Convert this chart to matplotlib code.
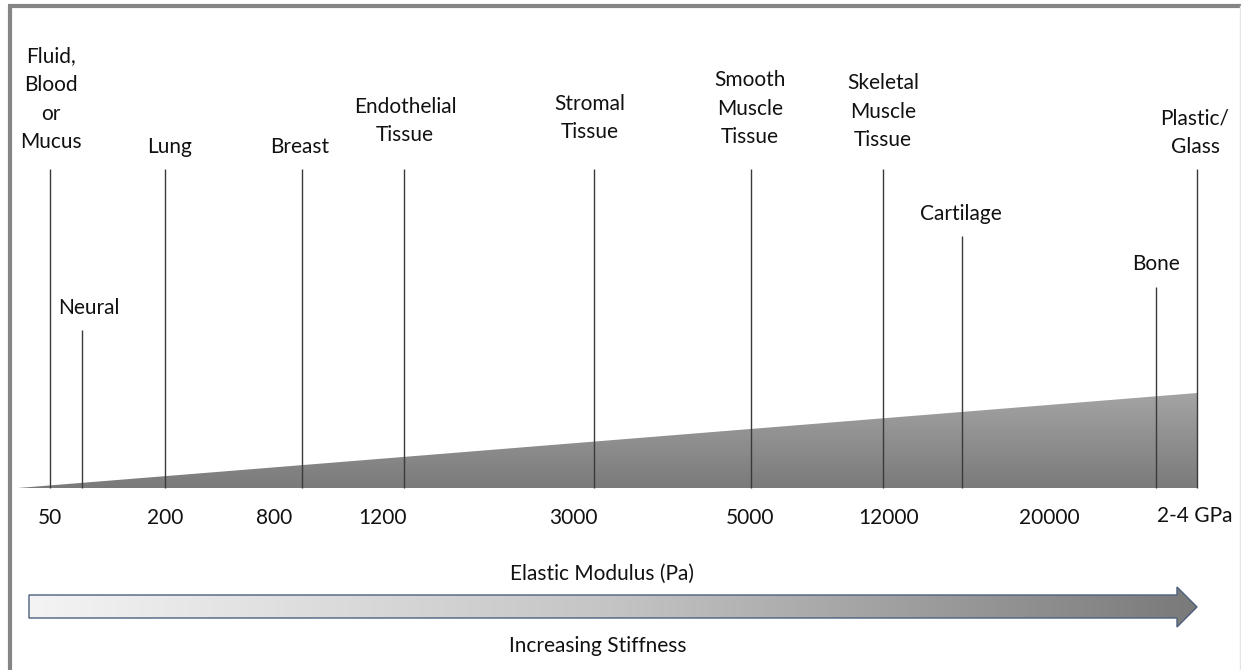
import matplotlib
matplotlib.use("Agg")
import matplotlib.pyplot as plt
import numpy as np
from matplotlib.patches import Polygon
from matplotlib.colors import LinearSegmentedColormap

plt.rcParams['font.family'] = ['Lato', 'DejaVu Sans']

# ---- data (diagram positions, pixel-like scale) ----
tissues = ["Fluid,\nBlood\nor\nMucus", "Neural", "Lung", "Breast",
           "Endothelial\nTissue", "Stromal\nTissue", "Smooth\nMuscle\nTissue",
           "Skeletal\nMuscle\nTissue", "Cartilage", "Bone", "Plastic/\nGlass"]
tissue_x = [50, 82, 165, 302, 404, 594, 751, 883, 962, 1156, 1197]
line_top = [169, 330, 169, 169, 169, 169, 169, 169, 236, 287, 169]
label_x = [51, 89, 170, 300, 405, 590, 750, 883, 961, 1156, 1195]
label_y = [148, 314, 153, 153, 141, 138, 143, 146, 220, 270, 153]

modulus_labels = ["50", "200", "800", "1200", "3000", "5000", "12000", "20000", "2-4 GPa"]
modulus_x = [50, 165, 274, 383, 573, 750, 889, 1049, 1195]
modulus_y = [524, 524, 524, 524, 524, 524, 524, 524, 522]

W, H = 1241, 670
fig = plt.figure(figsize=(W / 100, H / 100), dpi=100)
ax = fig.add_axes([0, 0, 1, 1])
ax.set_xlim(0, W)
ax.set_ylim(H, 0)
ax.axis('off')

FS = 15
TXT = '#111111'
baseline_y = 488
wedge_left = 18
wedge_right = tissue_x[-1]
wedge_top = 393

# wedge with vertical gradient
wedge = Polygon([[wedge_left, baseline_y], [wedge_right, baseline_y], [wedge_right, wedge_top]],
                closed=True, facecolor='none', edgecolor='none')
ax.add_patch(wedge)
cm_w = LinearSegmentedColormap.from_list('w', ['#a4a4a4', '#7a7a7a'])
grad = np.linspace(0, 1, 256).reshape(-1, 1)
im = ax.imshow(grad, cmap=cm_w, aspect='auto',
               extent=[wedge_left, wedge_right, baseline_y, wedge_top], zorder=1)
im.set_clip_path(wedge)

# vertical lines
ax.vlines(tissue_x, line_top, baseline_y, colors='#3a3a3a', linewidth=1.0, zorder=2)

# tissue labels (y = baseline of the last line)
for t, x, y in zip(tissues, label_x, label_y):
    ax.text(x, y, t, ha='center', va='baseline', fontsize=FS, color=TXT,
            linespacing=1.53, multialignment='center')

# modulus labels
for t, x, y in zip(modulus_labels, modulus_x, modulus_y):
    ax.text(x, y, t, ha='center', va='baseline', fontsize=FS, color=TXT)

ax.text(602, 580, "Elastic Modulus (Pa)", ha='center', va='baseline', fontsize=FS, color=TXT)
ax.text(598, 652, "Increasing Stiffness", ha='center', va='baseline', fontsize=FS, color=TXT)

# arrow with horizontal gradient
ax_l, ax_r, tip = 29, 1177, 1197
b_top, b_bot, h_top, h_bot, mid = 595, 618, 587, 627, 607
arrow = Polygon([[ax_l, b_top], [ax_r, b_top], [ax_r, h_top], [tip, mid],
                 [ax_r, h_bot], [ax_r, b_bot], [ax_l, b_bot]], closed=True,
                facecolor='none', edgecolor='#4d5f7c', linewidth=1.0, zorder=4)
ax.add_patch(arrow)
cm_a = LinearSegmentedColormap.from_list('a', ['#f4f4f4', '#c4c4c4', '#7a7a7a'])
grad_h = np.linspace(0, 1, 512).reshape(1, -1)
im2 = ax.imshow(grad_h, cmap=cm_a, aspect='auto',
                extent=[ax_l, tip, h_bot, h_top], zorder=3)
im2.set_clip_path(arrow)

# frame
ax.plot([9.5, 9.5], [5.5, H], color='#858585', linewidth=3.0, solid_capstyle='butt', zorder=5)
ax.plot([8, W], [5.5, 5.5], color='#858585', linewidth=3.0, solid_capstyle='butt', zorder=5)
ax.plot([1240, 1240], [5.5, H], color='#e4e4e4', linewidth=1.0, zorder=5)

ax.set_xlim(0, W)
ax.set_ylim(H, 0)
fig.savefig("out.png", dpi=100)
